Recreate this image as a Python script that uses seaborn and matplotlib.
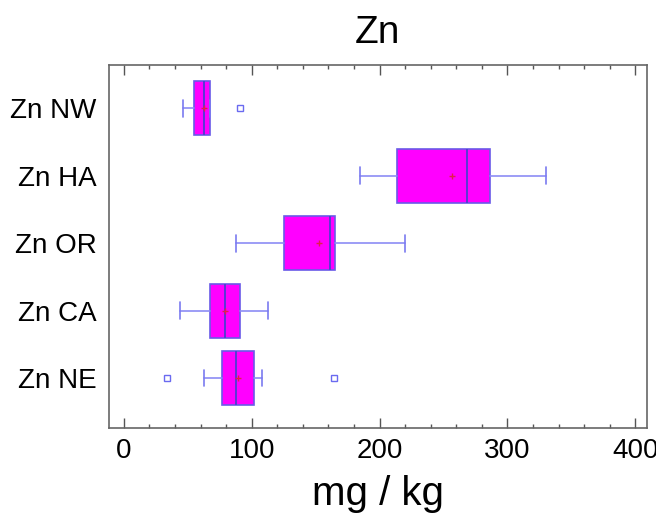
import matplotlib
matplotlib.use("Agg")
import matplotlib.pyplot as plt
import seaborn as sns
import pandas as pd
from matplotlib.ticker import MultipleLocator

sns.set_style("white")
plt.rcParams['font.family'] = ['Liberation Sans', 'DejaVu Sans']
plt.rcParams['text.color'] = 'black'
plt.rcParams['xtick.color'] = 'black'
plt.rcParams['ytick.color'] = 'black'
plt.rcParams['axes.labelcolor'] = 'black'

categories = ["Zn NW", "Zn HA", "Zn OR", "Zn CA", "Zn NE"]
whis_low = [46, 185, 88, 44, 63]
q1 = [55, 214, 125, 67, 77]
median = [63, 268, 161, 79, 88]
q3 = [67, 286, 165, 91, 102]
whis_high = [67, 330, 220, 113, 108]
means = [63, 257, 153, 79, 89]
outliers = [[91], [], [], [], [34, 164]]

fig = plt.figure(figsize=(6.56, 5.2), dpi=100)
ax = fig.add_axes([0.166, 0.177, 0.82, 0.698])

stats = []
for i, c in enumerate(categories):
    stats.append(dict(label=c, whislo=whis_low[i], q1=q1[i], med=median[i],
                      q3=q3[i], whishi=whis_high[i], fliers=outliers[i]))
positions = list(range(len(categories)))
ax.bxp(stats, positions=positions, vert=False, widths=0.8, patch_artist=True,
       showfliers=True,
       boxprops=dict(facecolor="#FF00FF", edgecolor="#6A5AE8", linewidth=1.2),
       medianprops=dict(color="#4B3FD0", linewidth=1.3),
       whiskerprops=dict(color="#8C8CF5", linewidth=1.2),
       capprops=dict(color="#7A7AF0", linewidth=1.2),
       flierprops=dict(marker="s", markersize=4, markerfacecolor="none",
                       markeredgecolor="#6A6AF0", markeredgewidth=1.0),
       capwidths=0.25)

mdf = pd.DataFrame({"cat": positions, "mean": means})
sns.scatterplot(data=mdf, x="mean", y="cat", ax=ax, marker="+", s=14,
                color="#E0204A", linewidth=1.0, zorder=5, legend=False)

ax.set_xlim(-11.7, 409)
ax.set_ylim(4.74, -0.64)
ax.set_yticks(positions)
ax.set_yticklabels(categories)
ax.xaxis.set_major_locator(MultipleLocator(100))
ax.xaxis.set_minor_locator(MultipleLocator(20))
ax.tick_params(axis="x", which="major", direction="in", length=7, width=1,
               color="#555555", top=True, bottom=True, labelsize=20, pad=7)
ax.tick_params(axis="x", which="minor", direction="in", length=3, width=1,
               color="#555555", top=True, bottom=True)
ax.tick_params(axis="y", which="both", length=0, labelsize=20, pad=9)
for s in ax.spines.values():
    s.set_visible(True)
    s.set_color("#666666")
    s.set_linewidth(1.2)

ax.set_xlabel("mg / kg", fontsize=29, labelpad=8)
ax.set_ylabel("")
ax.set_title("Zn", fontsize=28, pad=16)

fig.savefig("out.png", dpi=100)
